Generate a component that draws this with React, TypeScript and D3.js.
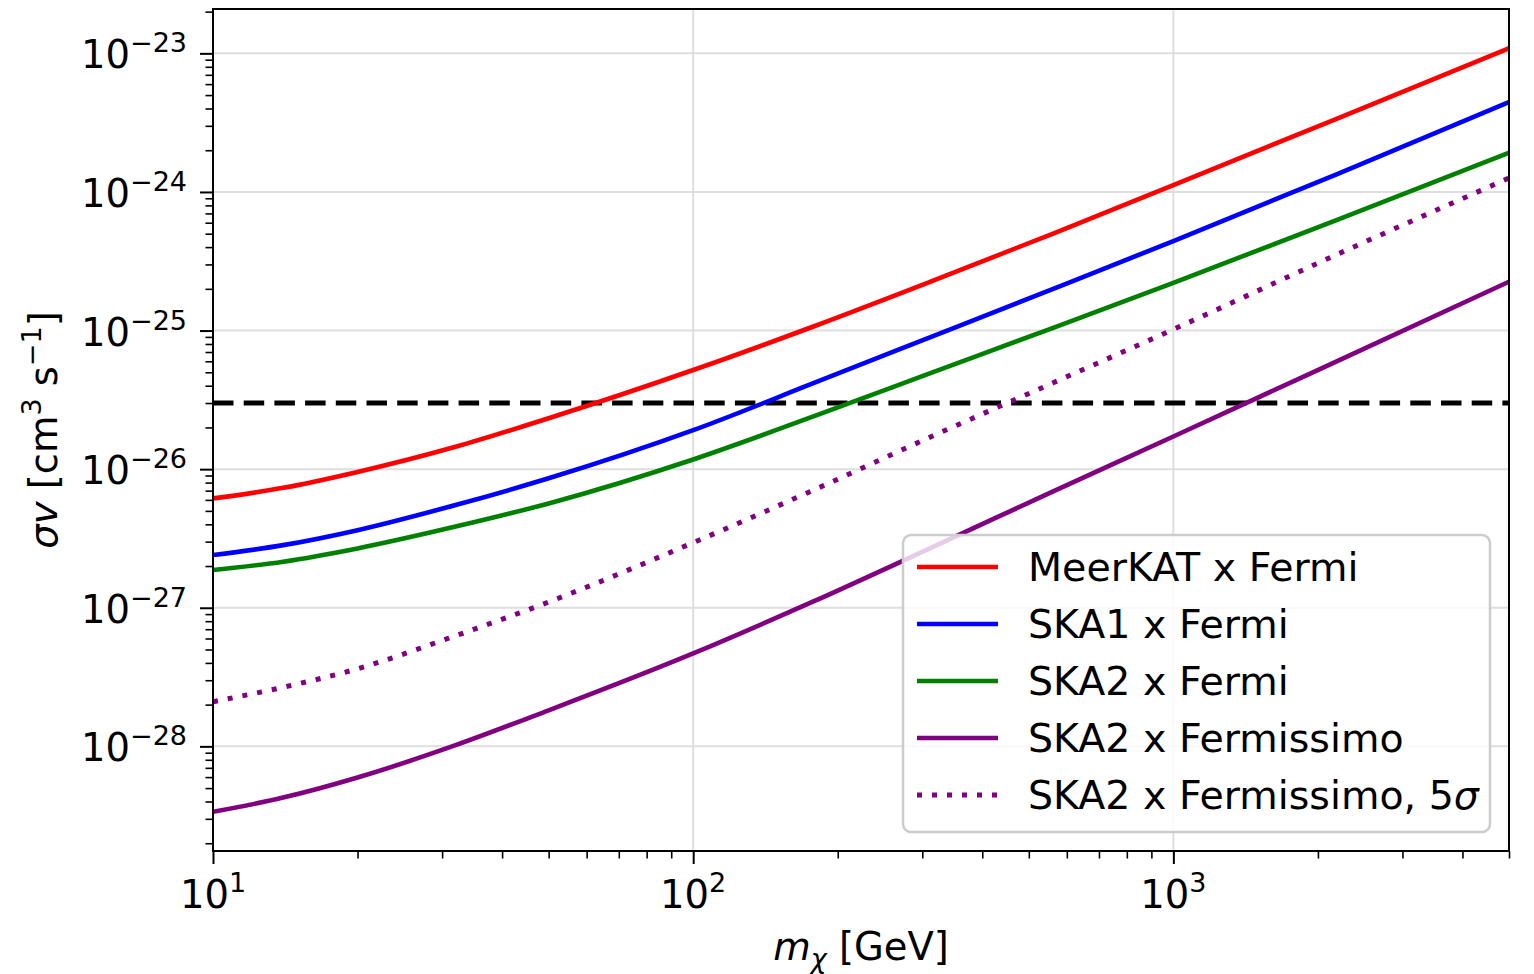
import React, { useRef, useEffect } from "react";
import * as d3 from "d3";

// dark matter mass [GeV]
const MASS = [10, 14, 20, 32, 50, 100, 178, 316, 562, 1000, 2200, 5000];

// <sigma v> sensitivity [cm^3 s^-1]
const MEERKAT_FERMI = [6.15e-27, 7.33e-27, 9.55e-27, 1.45e-26, 2.33e-26, 5.19e-26, 1.07e-25, 2.29e-25, 5.01e-25, 1.12e-24, 3.4e-24, 1.09e-23];
const SKA1_FERMI = [2.4e-27, 2.83e-27, 3.63e-27, 5.51e-27, 8.59e-27, 1.91e-26, 4.17e-26, 9.12e-26, 2.0e-25, 4.42e-25, 1.35e-24, 4.45e-24];
const SKA2_FERMI = [1.87e-27, 2.15e-27, 2.68e-27, 3.85e-27, 5.66e-27, 1.175e-26, 2.4e-26, 5.01e-26, 1.047e-25, 2.21e-25, 6.31e-25, 1.92e-24];
const SKA2_FERMISSIMO = [3.37e-29, 4.27e-29, 5.96e-29, 1.02e-28, 1.82e-28, 4.68e-28, 1.11e-27, 2.75e-27, 6.92e-27, 1.72e-26, 6.05e-26, 2.25e-25];
const SKA2_FERMISSIMO_5SIG = [2.1e-28, 2.67e-28, 3.63e-28, 6.28e-28, 1.1e-27, 2.95e-27, 7.06e-27, 1.74e-26, 4.2e-26, 1.02e-25, 3.56e-25, 1.26e-24];

const THERMAL_XS = 3e-26;

const SERIES = [
  { label: "MeerKAT x Fermi", values: MEERKAT_FERMI, color: "#ff0000", dotted: false },
  { label: "SKA1 x Fermi", values: SKA1_FERMI, color: "#0000ff", dotted: false },
  { label: "SKA2 x Fermi", values: SKA2_FERMI, color: "#008000", dotted: false },
  { label: "SKA2 x Fermissimo", values: SKA2_FERMISSIMO, color: "#800080", dotted: false },
  { label: "SKA2 x Fermissimo, 5", values: SKA2_FERMISSIMO_5SIG, color: "#800080", dotted: true },
];

const X_MAJOR = [1, 2, 3];
const Y_MAJOR = [-23, -24, -25, -26, -27, -28];

const WIDTH = 1534;
const HEIGHT = 974;
const FONT = "'DejaVu Sans', sans-serif";

export default function App() {
  const svgRef = useRef<SVGSVGElement>(null);

  useEffect(() => {
    if (!svgRef.current) return;
    const svg = d3.select(svgRef.current);
    svg.selectAll("*").remove();

    const left = 213, right = 1509, top = 9, bottom = 851;

    const x = d3.scaleLog().domain([10, 5000]).range([left, right]);
    const y = d3.scaleLog().domain([Math.pow(10, -28.755), Math.pow(10, -22.68)]).range([bottom, top]);

    svg.append("rect").attr("width", WIDTH).attr("height", HEIGHT).attr("fill", "#fff");

    svg.append("defs").append("clipPath").attr("id", "plot-clip")
      .append("rect")
      .attr("x", left).attr("y", top)
      .attr("width", right - left).attr("height", bottom - top);

    // grid
    const grid = svg.append("g").attr("stroke", "#dedede").attr("stroke-width", 2);
    X_MAJOR.forEach((e) => {
      grid.append("line")
        .attr("x1", x(Math.pow(10, e))).attr("x2", x(Math.pow(10, e)))
        .attr("y1", top).attr("y2", bottom);
    });
    Y_MAJOR.forEach((e) => {
      grid.append("line")
        .attr("x1", left).attr("x2", right)
        .attr("y1", y(Math.pow(10, e))).attr("y2", y(Math.pow(10, e)));
    });

    // minor tick values
    const xMinor: number[] = [];
    for (let d = 1; d <= 3; d++) for (let k = 2; k <= 9; k++) {
      const v = k * Math.pow(10, d);
      if (v <= 5000) xMinor.push(v);
    }
    const yMinor: number[] = [];
    for (let d = -29; d <= -23; d++) for (let k = 2; k <= 9; k++) {
      const v = k * Math.pow(10, d);
      if (v >= y.domain()[0] && v <= y.domain()[1]) yMinor.push(v);
    }

    const tickAxis = (axis: any, size: number, width: number, tr: string) => {
      const g = svg.append("g").attr("transform", tr)
        .call(axis.tickSize(size).tickFormat(() => ""));
      g.select(".domain").remove();
      g.selectAll("line").attr("stroke", "#000").attr("stroke-width", width);
    };
    tickAxis(d3.axisBottom(x).tickValues(X_MAJOR.map((e) => Math.pow(10, e))), 13, 2, `translate(0,${bottom})`);
    tickAxis(d3.axisBottom(x).tickValues(xMinor), 7.5, 1.6, `translate(0,${bottom})`);
    tickAxis(d3.axisLeft(y).tickValues(Y_MAJOR.map((e) => Math.pow(10, e))), 13, 2, `translate(${left},0)`);
    tickAxis(d3.axisLeft(y).tickValues(yMinor), 7.5, 1.6, `translate(${left},0)`);

    // tick labels 10^n
    const powLabel = (px: number, py: number, exp: string, anchor: string) => {
      const t = svg.append("text")
        .attr("x", px).attr("y", py)
        .attr("text-anchor", anchor)
        .style("font-family", FONT)
        .style("font-size", "38.5px")
        .attr("fill", "#000");
      t.append("tspan").text("10");
      t.append("tspan").attr("dy", -16).style("font-size", "27px").text(exp);
    };
    X_MAJOR.forEach((e) => powLabel(x(Math.pow(10, e)), 908, String(e), "middle"));
    Y_MAJOR.forEach((e) => powLabel(187, y(Math.pow(10, e)) + 15, "\u2212" + Math.abs(e), "end"));

    // axis labels
    const xl = svg.append("text")
      .attr("x", (left + right) / 2).attr("y", 960)
      .attr("text-anchor", "middle")
      .style("font-family", FONT).style("font-size", "38.5px");
    xl.append("tspan").style("font-style", "italic").text("m");
    xl.append("tspan").attr("dy", 8).style("font-style", "italic").style("font-size", "27px").text("\u03c7");
    xl.append("tspan").attr("dy", -8).text(" [GeV]");

    const yl = svg.append("text")
      .attr("transform", `translate(57,${(top + bottom) / 2}) rotate(-90)`)
      .attr("text-anchor", "middle")
      .style("font-family", FONT).style("font-size", "38.5px");
    yl.append("tspan").style("font-style", "italic").text("\u03c3v");
    yl.append("tspan").text(" [cm");
    yl.append("tspan").attr("dy", -16).style("font-size", "27px").text("3");
    yl.append("tspan").attr("dy", 16).text(" s");
    yl.append("tspan").attr("dy", -16).style("font-size", "27px").text("\u22121");
    yl.append("tspan").attr("dy", 16).text("]");

    // curves
    const plot = svg.append("g").attr("clip-path", "url(#plot-clip)");
    const line = d3.line<number>()
      .x((_, i) => x(MASS[i]))
      .y((d) => y(d))
      .curve(d3.curveMonotoneX);

    plot.append("line")
      .attr("x1", left).attr("x2", right)
      .attr("y1", y(THERMAL_XS)).attr("y2", y(THERMAL_XS))
      .attr("stroke", "#000").attr("stroke-width", 5)
      .attr("stroke-dasharray", "20.5,10.2");

    SERIES.forEach((s) => {
      plot.append("path")
        .datum(s.values)
        .attr("d", line)
        .attr("fill", "none")
        .attr("stroke", s.color)
        .attr("stroke-width", s.dotted ? 5 : 4.6)
        .attr("stroke-dasharray", s.dotted ? "5,10" : null);
    });

    // spines
    svg.append("rect")
      .attr("x", left).attr("y", top)
      .attr("width", right - left).attr("height", bottom - top)
      .attr("fill", "none").attr("stroke", "#000").attr("stroke-width", 2);

    // legend
    const lg = svg.append("g");
    lg.append("rect")
      .attr("x", 903).attr("y", 535).attr("width", 587).attr("height", 297)
      .attr("rx", 8)
      .attr("fill", "#fff").attr("fill-opacity", 0.8)
      .attr("stroke", "#cccccc").attr("stroke-width", 2.5);

    SERIES.forEach((s, i) => {
      const ry = 567 + i * 57;
      lg.append("line")
        .attr("x1", 917).attr("x2", 998)
        .attr("y1", ry).attr("y2", ry)
        .attr("stroke", s.color)
        .attr("stroke-width", s.dotted ? 5 : 4.6)
        .attr("stroke-dasharray", s.dotted ? "5,10" : null);
      const t = lg.append("text")
        .attr("x", 1028).attr("y", ry + 14)
        .style("font-family", FONT).style("font-size", "39.5px")
        .attr("fill", "#000");
      t.append("tspan").text(s.label);
      if (s.dotted) t.append("tspan").style("font-style", "italic").text("\u03c3");
    });
  }, []);

  return (
    <div style={{ position: "absolute", left: 0, top: 0 }}>
      <svg ref={svgRef} width={WIDTH} height={HEIGHT} viewBox={`0 0 ${WIDTH} ${HEIGHT}`} />
    </div>
  );
}
